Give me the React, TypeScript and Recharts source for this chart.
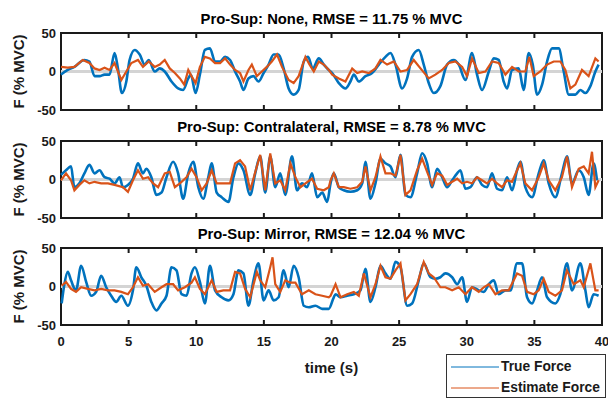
import { LineChart, Line, XAxis, YAxis, ReferenceLine, ReferenceArea, Legend } from "recharts";

const W = 608;
const H = 401;
const PLOT_RIGHT = 602;
const Y_AXIS_W = 61;
const PLOT_H = 77;
const AXIS_H = 48;
const FONT = "'Liberation Sans', Arial, Helvetica, sans-serif";
const INK = "#1a1a1a";
const BLUE = "#0072BD";
const ORANGE = "#D95319";

const timeTicks = [0, 5, 10, 15, 20, 25, 30, 35, 40];
const forceTicks = [-50, 0, 50];
const panelTops = [33, 141, 248];
const titles = [
  "Pro-Sup: None, RMSE = 11.75 % MVC",
  "Pro-Sup: Contralateral, RMSE = 8.78 % MVC",
  "Pro-Sup: Mirror, RMSE = 12.04 % MVC",
];
const seriesNames = ["True Force", "Estimate Force"];

// [time (s), force (% MVC)]
const noneTrue: [number, number][] = [
  [0, -4], [0.5, 2], [0.99, 6], [1.73, 15], [2.1, 13], [2.48, -6], [2.85, -6], [3.22, -4], [3.59, -4], [3.96, 24],
  [4.21, 4], [4.5, -28], [4.83, -13], [5.07, 15], [5.45, 28], [5.82, 22], [6.19, 9], [6.49, 15], [6.93, 0], [7.3, 4],
  [7.67, 0], [8.17, -13], [8.66, -22], [9.03, -24], [9.41, -9], [9.6, -4], [9.95, -28], [10.27, -4], [10.64, 28], [11.01, 30],
  [11.39, 13], [11.76, 13], [12.13, 19], [12.5, 15], [12.87, 0], [13.24, -13], [13.49, -24], [13.86, -9], [14.23, -6], [14.6, -13],
  [14.98, -2], [15.35, 9], [15.72, 22], [16.09, 22], [16.46, 4], [16.83, -22], [17.2, -30], [17.57, -24], [17.95, 13], [18.27, 19],
  [18.61, 4], [19.06, 17], [19.43, 9], [19.8, 2], [20.05, -2], [20.54, -15], [21.03, -22], [21.4, -13], [21.65, -4], [22.02, -13],
  [22.51, -6], [23.0, -2], [23.5, 9], [23.99, 19], [24.36, 24], [24.73, 9], [25.22, -22], [25.59, -9], [25.96, 19], [26.45, 28],
  [26.82, 9], [27.19, -15], [27.56, -28], [28.05, -19], [28.55, 9], [29.04, 15], [29.41, 9], [29.9, -11], [30.39, 24], [30.76, -4],
  [31.13, -24], [31.63, 0], [32.0, 17], [32.36, 15], [32.73, -13], [32.98, -22], [33.35, 2], [33.84, 4], [34.21, -24], [34.58, 24],
  [34.88, 9], [35.2, -30], [35.57, -17], [35.94, 13], [36.31, 30], [36.8, 30], [37.17, 0], [37.54, -30], [38.03, -30], [38.4, -24],
  [38.77, -28], [39.14, -19], [39.51, 0], [39.75, 9],
];
const noneEst: [number, number][] = [
  [0, 6], [0.5, 5], [0.99, 6], [1.61, 15], [2.1, 11], [2.48, 4], [2.85, 2], [3.22, 5], [3.59, 2], [3.96, 11],
  [4.21, 0], [4.46, -11], [4.83, 0], [5.2, 11], [5.69, 15], [6.06, 6], [6.49, 13], [6.93, 6], [7.3, 9], [7.67, 15],
  [8.04, 4], [8.42, -2], [8.79, -9], [9.11, -17], [9.41, 2], [9.65, -6], [9.95, -15], [10.27, 6], [10.64, 19], [11.01, 17],
  [11.39, 11], [11.76, 11], [12.13, 17], [12.5, 9], [12.87, 2], [13.24, -2], [13.49, -13], [13.86, 2], [14.11, 9], [14.48, -6],
  [14.85, 0], [15.22, 6], [15.59, 13], [15.97, 22], [16.34, 6], [16.83, -11], [17.2, -15], [17.57, -6], [18.07, 19], [18.37, 9],
  [18.69, 0], [19.06, 13], [19.43, 9], [19.8, 2], [20.05, -4], [20.54, -9], [21.03, -13], [21.53, 4], [21.9, -2], [22.27, 0],
  [22.76, -2], [23.25, 4], [23.62, 15], [24.11, 9], [24.61, 13], [25.1, 0], [25.59, 2], [26.08, 15], [26.58, 4], [27.19, -9],
  [27.68, -4], [28.18, 2], [28.67, 11], [29.16, 13], [29.66, 6], [30.02, -6], [30.39, 17], [30.89, -2], [31.38, 0], [31.87, 13],
  [32.36, 11], [32.86, -4], [33.35, 6], [33.84, 0], [34.33, 0], [34.63, 19], [34.95, -6], [35.44, 0], [35.94, 9], [36.43, 13],
  [36.92, 13], [37.29, 2], [37.66, -22], [38.03, -17], [38.52, 2], [39.01, -6], [39.51, 17], [39.75, 13],
];
const contraTrue: [number, number][] = [
  [0, 6], [0.37, 12], [0.74, 17], [0.99, -10], [1.36, -5], [1.73, 8], [2.1, 19], [2.48, 8], [2.85, 12], [3.22, 3],
  [3.59, 1], [3.96, -5], [4.33, 3], [4.58, -10], [4.95, -7], [5.32, 1], [5.69, 21], [6.06, 8], [6.31, 14], [6.68, 3],
  [7.05, -20], [7.43, -17], [7.8, 3], [8.29, 23], [8.66, 8], [9.03, -25], [9.41, 8], [9.78, 23], [10.15, -10], [10.52, -25],
  [10.89, 3], [11.14, 21], [11.51, -17], [11.88, -23], [12.38, -29], [12.75, 3], [13.12, 21], [13.49, 12], [13.99, -20], [14.36, 8],
  [14.73, 30], [15.1, -17], [15.47, 30], [15.84, -10], [16.21, 8], [16.58, -20], [17.08, 30], [17.45, -14], [17.82, -5], [18.19, -10],
  [18.56, 8], [18.94, -23], [19.31, -17], [19.68, -29], [19.93, -5], [20.17, 8], [20.54, -10], [20.91, -14], [21.4, -16], [21.9, -14],
  [22.27, -5], [22.51, 23], [22.88, -25], [23.25, -5], [23.62, 27], [23.99, 21], [24.36, 17], [24.73, 3], [25.1, 32], [25.47, -20],
  [25.84, -23], [26.33, 8], [26.7, 34], [27.07, 21], [27.44, -10], [27.81, 14], [28.18, 3], [28.55, -10], [28.92, -1], [29.29, 8],
  [29.53, 12], [29.9, -12], [30.27, -10], [30.76, 3], [31.13, -7], [31.5, -10], [31.87, 8], [32.24, -12], [32.61, -14], [32.98, 3],
  [33.35, -14], [33.72, 12], [33.97, 23], [34.33, -10], [34.83, -23], [35.32, 8], [35.69, 25], [36.06, -5], [36.55, -23], [37.04, 8],
  [37.41, 30], [37.78, -5], [38.28, 12], [38.65, 3], [39.01, -20], [39.38, 21], [39.63, -1],
];
const contraEst: [number, number][] = [
  [0, -1], [0.37, 8], [0.74, -1], [0.99, -14], [1.36, -7], [1.73, -1], [2.1, -5], [2.48, -3], [2.97, -5], [3.47, -5],
  [3.96, -7], [4.58, -10], [4.95, -16], [5.32, -1], [5.69, 12], [6.06, 1], [6.44, 3], [6.81, -5], [7.18, -10], [7.67, 8],
  [8.04, 10], [8.42, -10], [8.79, -5], [9.28, 3], [9.65, 14], [10.02, 3], [10.4, -14], [10.77, -5], [11.14, 12], [11.51, -5],
  [12.0, -5], [12.5, -5], [12.87, 21], [13.24, 25], [13.61, 17], [13.99, -14], [14.48, 17], [14.73, 32], [15.1, -14], [15.47, 34],
  [15.84, -5], [16.21, -1], [16.58, -14], [16.96, 21], [17.33, 3], [17.7, -10], [18.07, -5], [18.56, 1], [18.94, -12], [19.43, -14],
  [19.8, -10], [19.93, -1], [20.17, 8], [20.54, -10], [20.91, -10], [21.4, -12], [21.9, -10], [22.27, -3], [22.51, 17], [22.88, -14],
  [23.25, 3], [23.62, 30], [23.99, 8], [24.36, 8], [24.73, 5], [25.1, 32], [25.47, -20], [25.84, -14], [26.33, 12], [26.7, 27],
  [27.07, 10], [27.44, -7], [27.81, 8], [28.18, 5], [28.55, -7], [28.92, -3], [29.29, 1], [29.66, -5], [30.02, -3], [30.39, -5],
  [30.76, 3], [31.13, -1], [31.5, -5], [31.87, 1], [32.24, -5], [32.61, -10], [32.98, -1], [33.35, -3], [33.72, 12], [33.97, 21],
  [34.33, -5], [34.83, -14], [35.32, 3], [35.69, 21], [36.06, -1], [36.55, -14], [37.04, 3], [37.41, 30], [37.78, -10], [38.28, 14],
  [38.65, 17], [39.01, 8], [39.26, 36], [39.51, -10], [39.75, -1],
];
const mirrorTrue: [number, number][] = [
  [0.05, -22], [0.25, 3], [0.5, 19], [0.74, 8], [1.11, -5], [1.49, 27], [1.86, 6], [2.23, -12], [2.6, -7], [2.97, 14],
  [3.34, -1], [3.71, -12], [4.08, -20], [4.46, -12], [4.95, -25], [5.32, -5], [5.57, 25], [5.94, 12], [6.31, 1], [6.68, -20],
  [7.05, -31], [7.43, -22], [7.8, -12], [8.17, 25], [8.54, 21], [8.91, -10], [9.28, -12], [9.65, 17], [9.9, 25], [10.27, 6],
  [10.64, -22], [11.01, 27], [11.39, -5], [11.88, -14], [12.38, -18], [12.75, -10], [13.12, 21], [13.49, 17], [13.86, -25], [14.23, 8],
  [14.6, 30], [14.98, -18], [15.35, -5], [15.72, -18], [16.09, -14], [16.46, 21], [16.83, -1], [17.2, 27], [17.57, 12], [17.95, -25],
  [18.32, -27], [18.81, -25], [19.31, -29], [19.8, -29], [20.17, -14], [20.3, -10], [20.67, -14], [21.16, -12], [21.65, -10], [22.14, -5],
  [22.51, 23], [22.88, -20], [23.25, -1], [23.62, 27], [23.99, 17], [24.36, 10], [24.73, 32], [25.1, 25], [25.59, -25], [25.96, -22],
  [26.45, 8], [26.82, 30], [27.32, 12], [27.68, 10], [28.05, 12], [28.42, 17], [28.92, 12], [29.29, 3], [29.66, 12], [30.02, -20],
  [30.39, -1], [30.89, -5], [31.26, -7], [31.63, 3], [32.0, 8], [32.36, -10], [32.86, -5], [33.23, -5], [33.72, 30], [34.09, 30],
  [34.46, -14], [34.83, -22], [35.2, -5], [35.57, 12], [35.94, -14], [36.55, -22], [36.92, -10], [37.41, 30], [37.78, -5], [38.4, 30],
  [38.77, -5], [39.01, -27], [39.38, -10], [39.75, -12],
];
const mirrorEst: [number, number][] = [
  [0.05, 1], [0.37, 6], [0.74, -3], [1.11, -7], [1.49, -1], [1.98, -3], [2.48, -5], [2.97, -3], [3.47, -5], [3.96, -5],
  [4.46, -7], [4.95, -10], [5.32, -1], [5.69, 12], [6.06, 1], [6.44, 3], [6.93, -7], [7.43, -1], [7.8, 3], [8.29, 3],
  [8.66, -5], [9.16, -1], [9.65, 5], [9.9, 12], [10.27, -3], [10.64, -10], [11.14, 8], [11.51, -7], [12.0, -5], [12.5, -5],
  [12.87, 19], [13.24, 17], [13.61, -3], [13.99, -14], [14.48, 19], [14.73, 8], [15.1, -1], [15.47, 25], [15.64, 38], [15.84, 3],
  [16.21, -7], [16.58, 8], [16.96, 5], [17.33, 5], [17.82, -10], [18.32, -5], [18.81, -10], [19.31, -12], [19.8, -14], [19.93, -12],
  [20.3, 3], [20.67, -14], [21.16, -10], [21.65, -7], [22.02, -12], [22.39, 17], [22.88, -14], [23.25, 3], [23.62, 27], [23.99, 12],
  [24.36, 10], [24.73, 21], [25.1, 30], [25.47, -18], [25.84, -10], [26.33, 3], [26.82, 32], [27.19, 17], [27.56, 12], [28.05, -1],
  [28.42, -1], [28.92, -5], [29.41, -1], [29.9, -10], [30.39, -1], [30.89, -7], [31.26, -1], [31.63, 3], [32.12, -10], [32.61, -5],
  [33.1, -5], [33.72, 17], [34.09, 14], [34.46, -7], [34.95, -10], [35.32, -5], [35.69, 10], [36.06, -7], [36.55, -12], [37.04, -5],
  [37.41, 21], [37.91, 3], [38.4, 8], [38.65, -1], [39.14, 30], [39.51, -5], [39.75, -5],
];

const toPts = (arr: [number, number][]) => arr.map(([t, v]) => ({ t, v }));

const panels = [
  { title: titles[0], truth: toPts(noneTrue), est: toPts(noneEst) },
  { title: titles[1], truth: toPts(contraTrue), est: toPts(contraEst) },
  { title: titles[2], truth: toPts(mirrorTrue), est: toPts(mirrorEst) },
];

function TimeTick(props: any) {
  const { x, y, payload, showLabel } = props;
  const v = payload.value;
  const inner = v > 0 && v < 40;
  return (
    <g>
      {inner && <line x1={x} x2={x} y1={y} y2={y - 5} stroke={INK} strokeWidth={2} />}
      {inner && <line x1={x} x2={x} y1={y - PLOT_H} y2={y - PLOT_H + 5} stroke={INK} strokeWidth={2} />}
      {showLabel && (
        <text x={x} y={y + 21} textAnchor="middle" fontSize={13} fontWeight={700} fontFamily={FONT} fill={INK}>
          {v}
        </text>
      )}
    </g>
  );
}

// legend keeps the series order: True Force first
function LegendBox(props: any) {
  const items = [...(props.payload || [])].sort(
    (a: any, b: any) => seriesNames.indexOf(a.value) - seriesNames.indexOf(b.value)
  );
  return (
    <div
      style={{
        width: 160,
        height: 44,
        boxSizing: "border-box",
        border: "1px solid #333",
        background: "#fff",
        padding: "1px 0",
        fontFamily: FONT,
        fontWeight: 700,
        fontSize: 13.8,
        color: INK,
      }}
    >
      {items.map((e: any) => (
        <div key={e.value} style={{ display: "flex", alignItems: "center", height: 21 }}>
          <svg width={54} height={4} style={{ display: "block" }}>
            <line x1={4} x2={52} y1={2} y2={2} stroke={e.color} strokeWidth={1} />
          </svg>
          <span>{e.value}</span>
        </div>
      ))}
    </div>
  );
}

function Panel({ index }: { index: number }) {
  const top = panelTops[index];
  const p = panels[index];
  const last = index === panels.length - 1;
  return (
    <div style={{ position: "absolute", left: 0, top: 0 }}>
      <LineChart
        width={W}
        height={H}
        margin={{ top, right: W - PLOT_RIGHT, left: 0, bottom: H - top - PLOT_H - AXIS_H }}
      >
        <XAxis
          dataKey="t"
          type="number"
          domain={[0, 40]}
          ticks={timeTicks}
          interval={0}
          height={AXIS_H}
          axisLine={false}
          tickLine={false}
          tickSize={0}
          tickMargin={0}
          tick={(tp: any) => <TimeTick {...tp} showLabel={last} />}
          label={
            last
              ? { value: "time (s)", position: "insideBottom", offset: 0, fontSize: 15, fontWeight: 700, fontFamily: FONT, fill: INK }
              : undefined
          }
        />
        <YAxis
          type="number"
          domain={[-50, 50]}
          ticks={forceTicks}
          interval={0}
          width={Y_AXIS_W}
          axisLine={false}
          tickLine={false}
          tickSize={0}
          tickMargin={5}
          tick={{ fontSize: 13, fontWeight: 700, fontFamily: FONT, fill: INK }}
          label={{
            value: "F (% MVC)",
            angle: -90,
            position: "center",
            dx: -12,
            fontSize: 15,
            fontWeight: 700,
            fontFamily: FONT,
            fill: INK,
          }}
        />
        <ReferenceLine y={0} stroke="#d4d4d4" strokeWidth={3} />
        <Line
          data={p.truth}
          dataKey="v"
          name={seriesNames[0]}
          type="monotone"
          stroke={BLUE}
          strokeWidth={2.6}
          dot={false}
          isAnimationActive={false}
        />
        <Line
          data={p.est}
          dataKey="v"
          name={seriesNames[1]}
          type="linear"
          stroke={ORANGE}
          strokeWidth={2.2}
          dot={false}
          isAnimationActive={false}
        />
        <ReferenceArea
          x1={0}
          x2={40}
          y1={-50}
          y2={50}
          fill="none"
          stroke={INK}
          strokeWidth={2}
          ifOverflow="visible"
          label={{ value: p.title, position: "top", offset: 9, fontSize: 14.8, fontWeight: 700, fontFamily: FONT, fill: "#000" }}
        />
        {last && (
          <Legend
            layout="horizontal"
            verticalAlign="middle"
            align="center"
            content={<LegendBox />}
            wrapperStyle={{ left: 446, top: 354, width: 160, height: 44 }}
          />
        )}
      </LineChart>
    </div>
  );
}

export default function App() {
  return (
    <div style={{ position: "absolute", left: 0, top: 0, width: W, height: H, background: "#fff", overflow: "hidden" }}>
      {panels.map((_, i) => (
        <Panel key={i} index={i} />
      ))}
    </div>
  );
}
